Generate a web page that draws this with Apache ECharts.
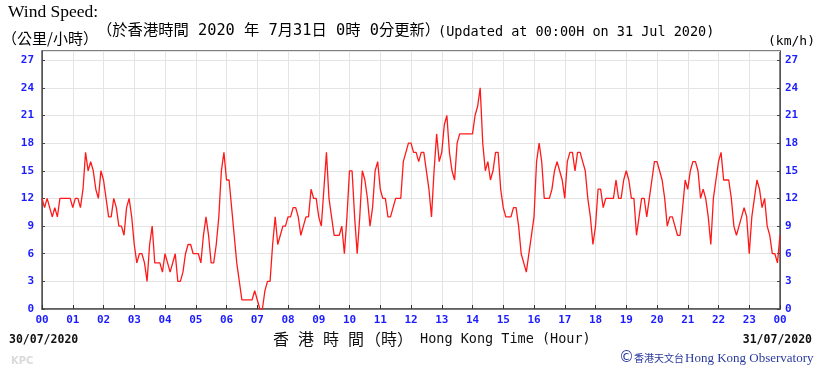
<!DOCTYPE html>
<html><head><meta charset="utf-8">
<script src="https://cdn.jsdelivr.net/npm/echarts@6/dist/echarts.min.js"></script>
<style>html,body{margin:0;padding:0;background:#fff}#c{width:819px;height:369px}</style>
</head><body><div id="c"></div>
<script>
// sampling step of the readings (minutes)
const stepMinutes = 5;
// hour tick labels 00..23, 00
const hourLabels = ['00','01','02','03','04','05','06','07','08','09','10','11','12','13','14','15','16','17','18','19','20','21','22','23','00'];
// wind speed (km/h), every 5 minutes from 00:00 30/07 to 00:00 31/07
const speed = [
  12,11,12,11,10,11,10,12,12,12,12,12,
  11,12,12,11,13,17,15,16,15,13,12,15,
  14,12,10,10,12,11,9,9,8,11,12,10,
  7,5,6,6,5,3,7,9,5,5,5,4,
  6,5,4,5,6,3,3,4,6,7,7,6,
  6,6,5,8,10,8,5,5,7,10,15,17,
  14,14,11,8,5,3,1,1,1,1,1,2,
  1,0,0,2,3,3,7,10,7,8,9,9,
  10,10,11,11,10,8,9,10,10,13,12,12,
  10,9,13,17,12,10,8,8,8,9,6,10,
  15,15,10,6,10,15,14,12,9,11,15,16,
  13,12,12,10,10,11,12,12,12,16,17,18,
  18,17,17,16,17,17,15,13,10,15,19,16,
  17,20,21,17,15,14,18,19,19,19,19,19,
  19,21,22,24,18,15,16,14,15,17,17,13,
  11,10,10,10,11,11,9,6,5,4,6,8,
  10,16,18,16,12,12,12,13,15,16,15,14,
  12,16,17,17,15,17,17,16,15,12,10,7,
  9,13,13,11,12,12,12,12,14,12,12,14,
  15,14,12,12,8,10,12,12,10,12,14,16,
  16,15,14,12,9,10,10,9,8,8,11,14,
  13,15,16,16,15,12,13,12,10,7,12,14,
  16,17,14,14,14,12,9,8,9,10,11,10,
  6,10,12,14,13,11,12,9,8,6,6,5,
  8
];
const yMax = 28;
const yStep = 3;
// axis title characters (Chinese part, spaced out)
const axisTitleZh = ['香', '港', '時', '間', '（時）'];

const blue = '#1c1cff';
const labelFont = {color: blue, fontFamily: 'DejaVu Sans Mono', fontWeight: 'bold', fontSize: 11};
const chart = echarts.init(document.getElementById('c'), null, {renderer: 'canvas'});
const yAxisBase = {
  type: 'value', min: 0, max: yMax, interval: yStep,
  axisLine: {show: true, lineStyle: {color: '#555', width: 1}},
  axisTick: {show: true, inside: true, length: 3, lineStyle: {color: '#444'}},
  axisLabel: Object.assign({formatter: v => v === yMax ? '' : String(v), showMaxLabel: false}, labelFont)
};
const zhPos = [273, 298, 323, 348, 365];
const zhTitle = axisTitleZh.map((t, i) => ({type: 'text', left: zhPos[i], top: 331, style: {text: t, font: '16px "Noto Sans CJK TC"', fill: '#111'}}));
chart.setOption({
  animation: false,
  grid: {left: 42, right: 39, top: 51, bottom: 60, show: true, borderColor: '#555', borderWidth: 1.5},
  xAxis: {
    type: 'value', min: 0, max: 1440, interval: 60,
    axisLine: {show: true, lineStyle: {color: '#555', width: 1.5}},
    axisTick: {show: true, inside: true, length: 4, lineStyle: {color: '#333'}},
    splitLine: {show: true, lineStyle: {color: '#e4e4e4', width: 1}},
    axisLabel: Object.assign({margin: 6, formatter: v => hourLabels[Math.round(v / 60)], showMaxLabel: true, showMinLabel: true}, labelFont)
  },
  yAxis: [
    Object.assign({}, yAxisBase, {position: 'left', splitLine: {show: true, lineStyle: {color: '#e4e4e4', width: 1}}, axisLabel: Object.assign({}, yAxisBase.axisLabel, {margin: 8})}),
    Object.assign({}, yAxisBase, {position: 'right', splitLine: {show: false}, axisLabel: Object.assign({}, yAxisBase.axisLabel, {margin: 5})})
  ],
  series: [{
    type: 'line', yAxisIndex: 0, showSymbol: false, symbol: 'none',
    data: speed.map((v, i) => [i * stepMinutes, v]),
    lineStyle: {color: '#ff1a1a', width: 1.3},
    z: 5
  }],
  graphic: [
    {type: 'text', left: 8, top: 3, style: {text: 'Wind Speed:', font: '17.5px "Liberation Serif"', fill: '#000'}},
    {type: 'text', left: 2, top: 31, style: {text: '（公里/小時）', font: '15px "Noto Sans CJK TC"', fill: '#000'}},
    {type: 'text', left: 97, top: 23, style: {text: '（於香港時間 2020 年 7月31日 0時 0分更新）', font: '15.3px "DejaVu Sans Mono", "Noto Sans CJK TC"', fill: '#000'}},
    {type: 'text', left: 438, top: 25, style: {text: '(Updated at 00:00H on 31 Jul 2020)', font: '13.5px "DejaVu Sans Mono"', fill: '#000'}},
    {type: 'text', left: 768, top: 35, style: {text: '(km/h)', font: '13px "DejaVu Sans Mono"', fill: '#000'}},
    {type: 'text', left: 9, top: 334, style: {text: '30/07/2020', font: 'bold 11.5px "DejaVu Sans Mono"', fill: '#111'}},
    {type: 'text', right: 7, top: 334, style: {text: '31/07/2020', font: 'bold 11.5px "DejaVu Sans Mono"', fill: '#111'}}
  ].concat(zhTitle, [
    {type: 'text', left: 420, top: 332, style: {text: 'Hong Kong Time (Hour)', font: '13.5px "DejaVu Sans Mono"', fill: '#111'}},
    {type: 'text', left: 11, top: 356, style: {text: 'KPC', font: 'bold 10px "DejaVu Sans"', fill: '#dadada'}},
    {type: 'text', left: 619, top: 351, style: {text: '©', font: '15px "DejaVu Sans"', fill: '#2a3a9e'}},
    {type: 'text', left: 634, top: 353, style: {text: '香港天文台', font: '10px "Noto Sans CJK TC"', fill: '#2a3a9e'}},
    {type: 'text', left: 685, top: 352, style: {text: 'Hong Kong Observatory', font: '13px "Liberation Serif"', fill: '#2a3a9e'}}
  ])
});
</script>
</body></html>
